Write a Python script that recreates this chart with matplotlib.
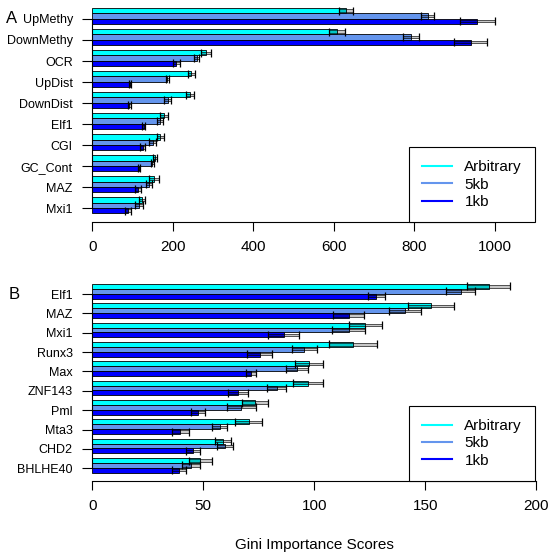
import matplotlib
matplotlib.use('Agg')
import matplotlib.pyplot as plt
from matplotlib.lines import Line2D
import numpy as np

plt.rcParams['font.family'] = ['Liberation Sans', 'DejaVu Sans']

# panel A
top_features = ['UpMethy', 'DownMethy', 'OCR', 'UpDist', 'DownDist', 'Elf1', 'CGI', 'GC_Cont', 'MAZ', 'Mxi1']
top_arb = [630, 608, 283, 246, 242, 179, 169, 156, 154, 123]
top_arb_err = [18, 20, 12, 9, 10, 10, 9, 5, 12, 8]
top_5kb = [833, 792, 259, 186, 187, 168, 150, 149, 141, 116]
top_5kb_err = [16, 20, 7, 4, 9, 7, 8, 4, 8, 9]
top_1kb = [957, 940, 209, 93, 92, 128, 125, 116, 114, 88]
top_1kb_err = [44, 41, 8, 3, 3, 4, 7, 3, 7, 8]
top_ticks = [0, 200, 400, 600, 800, 1000]

# panel B
bot_features = ['Elf1', 'MAZ', 'Mxi1', 'Runx3', 'Max', 'ZNF143', 'Pml', 'Mta3', 'CHD2', 'BHLHE40']
bot_arb = [178.5, 152.7, 123, 117.4, 97.5, 97, 73.3, 70.4, 58.8, 48.6]
bot_arb_err = [9.5, 10.3, 7.5, 11, 6.4, 6.7, 6, 6, 3.7, 5.2]
bot_5kb = [166, 141, 115.5, 95.5, 92.2, 83, 67.2, 57.3, 59.7, 44.3]
bot_5kb_err = [6.5, 7.2, 7.5, 5.6, 5, 4.4, 6.7, 3.5, 3.7, 4]
bot_1kb = [128, 115.5, 86.3, 75.4, 71.6, 65.5, 47.6, 39.7, 45.4, 39]
bot_1kb_err = [4, 7, 7, 5.6, 2.3, 4.5, 3.3, 3.8, 3.3, 3.2]
bot_ticks = [0, 50, 100, 150, 200]

series_labels = ['Arbitrary', '5kb', '1kb']
colors = ['#00FFFF', '#6495ED', '#0000FF']

W = 554.0


def px_box(left, right, top, bottom):
    # pixel box -> figure fraction rect
    return [left / W, 1 - bottom / W, (right - left) / W, (bottom - top) / W]


def draw_panel(ax, features, series, errs, ticks, xmax, ybottom, letter, letter_pos):
    n = len(features)
    grp_top = 4 * np.arange(n) + 1
    for k, (vals, err) in enumerate(zip(series, errs)):
        y = grp_top + 0.5 + k
        vals = np.asarray(vals, float)
        err = np.asarray(err, float)
        ax.barh(y, vals, height=1.0, color=colors[k], edgecolor='black', linewidth=0.6, zorder=2)
        # error band + caps
        ax.barh(y, 2 * err, left=vals - err, height=0.45, color=(0, 0, 0, 0.22),
                edgecolor=(0, 0, 0, 0.75), linewidth=0.6, zorder=3)
        ax.errorbar(vals, y, xerr=err, fmt='none', ecolor='black', elinewidth=0,
                    capsize=2.6, capthick=0.9, zorder=4)
    tick_y = grp_top + 2.08
    ax.set_yticks(tick_y)
    ax.set_yticklabels(features, fontsize=9)
    ax.set_xticks(ticks)
    ax.set_xticklabels([str(t) for t in ticks], fontsize=11)
    ax.set_xlim(0, xmax)
    ax.set_ylim(ybottom, 0)
    for s in ['top', 'right']:
        ax.spines[s].set_visible(False)
    ax.spines['left'].set_bounds(tick_y[0], tick_y[-1])
    ax.spines['bottom'].set_bounds(ticks[0], ticks[-1])
    ax.spines['left'].set_linewidth(0.8)
    ax.spines['bottom'].set_linewidth(0.8)
    ax.tick_params(axis='y', length=7, width=0.8, pad=7)
    ax.tick_params(axis='x', length=6.2, width=0.8, pad=7)
    fig.text(letter_pos[0] / W, 1 - letter_pos[1] / W, letter, fontsize=12,
             ha='center', va='center')


def add_legend(ax, right_px, bottom_px):
    handles = [Line2D([0], [0], color=c, lw=1.5) for c in colors]
    leg = ax.legend(handles, series_labels, loc='lower right',
                    bbox_to_anchor=(right_px / W, 1 - bottom_px / W),
                    bbox_transform=fig.transFigure, borderaxespad=0,
                    fontsize=11, handlelength=1.95, handletextpad=0.8,
                    borderpad=0.85, labelspacing=0.22, fancybox=False,
                    framealpha=1, edgecolor='black')
    leg.get_frame().set_linewidth(0.8)


fig = plt.figure(figsize=(5.54, 5.54), dpi=100)

ax1 = fig.add_axes(px_box(92.3, 540, 2.74, 222))
draw_panel(ax1, top_features, [top_arb, top_5kb, top_1kb],
           [top_arb_err, top_5kb_err, top_1kb_err], top_ticks,
           (540 - 92.3) / 0.4025, 41.68, 'A', (12, 18.7))
add_legend(ax1, 535, 222)

ax2 = fig.add_axes(px_box(92.3, 540, 279.16, 480.7))
draw_panel(ax2, bot_features, [bot_arb, bot_5kb, bot_1kb],
           [bot_arb_err, bot_5kb_err, bot_1kb_err], bot_ticks,
           (540 - 92.3) / 2.22, 41.66, 'B', (14.2, 294.7))
add_legend(ax2, 535, 480.7)

fig.text(314 / W, 1 - 545 / W, 'Gini Importance Scores', fontsize=11, ha='center', va='center')

fig.savefig('out.png', dpi=100)
